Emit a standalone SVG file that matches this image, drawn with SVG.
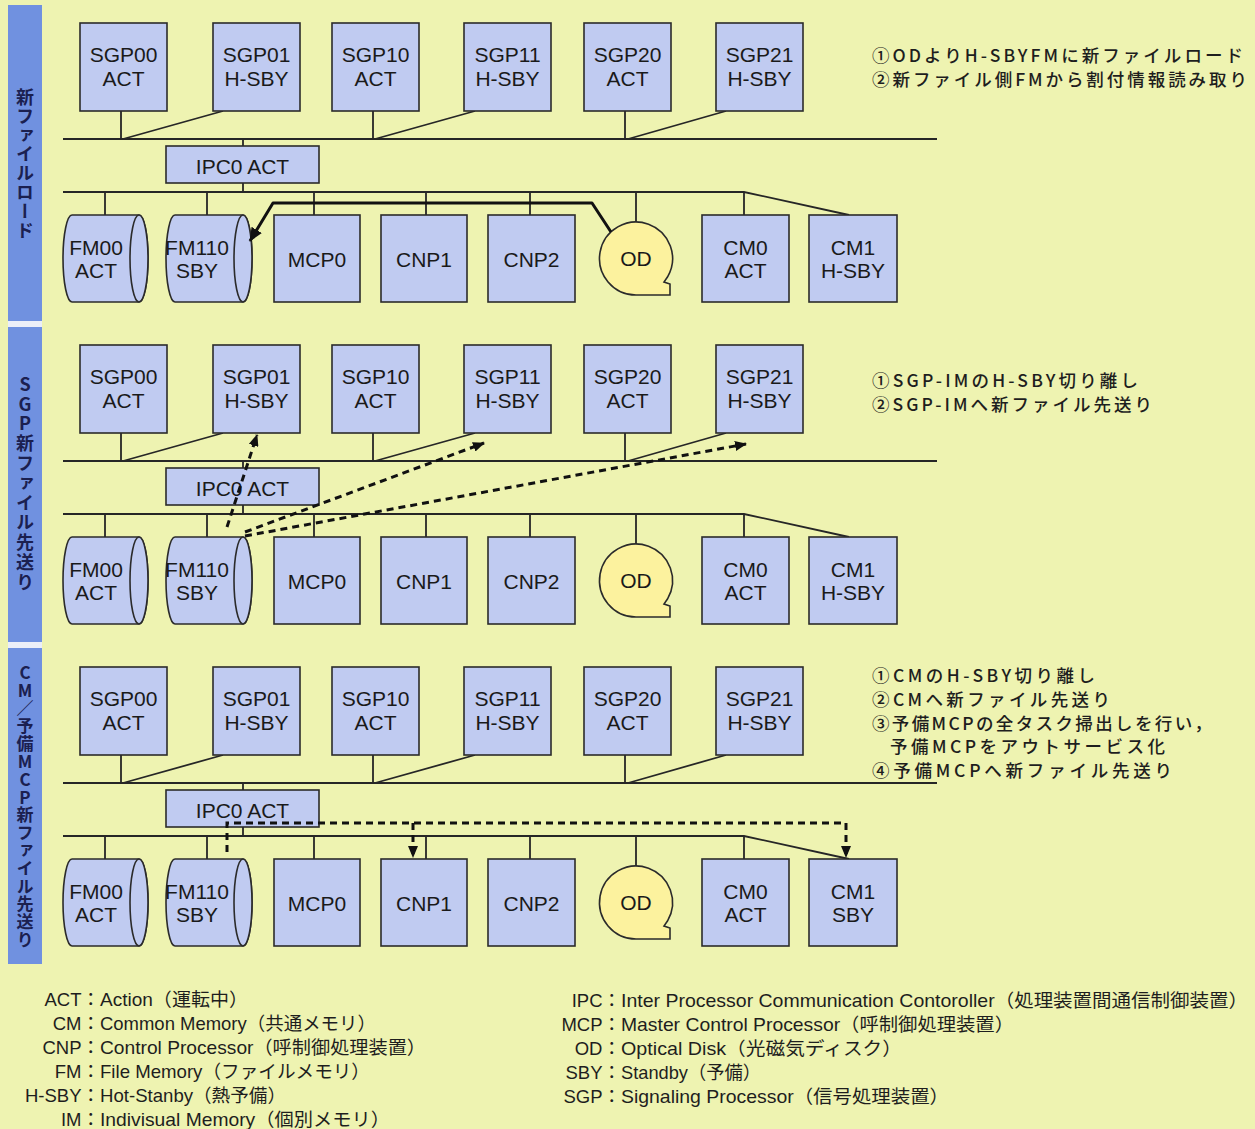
<svg xmlns="http://www.w3.org/2000/svg" width="1255" height="1129" viewBox="0 0 1255 1129">
<defs>
<style>
.lbl{font-family:"Liberation Sans",Arial,sans-serif;font-size:21px;fill:#1a1a1a;text-anchor:middle}
.box{fill:#c0cbf1;stroke:#2b2b2b;stroke-width:1.6}
.od{fill:#fcf29e;stroke:#2b2b2b;stroke-width:1.6}
.w{stroke:#262626;stroke-width:1.8;fill:none}
.dash{stroke:#111;stroke-width:3;stroke-dasharray:7 5;fill:none}
.thick{stroke:#111;stroke-width:3;fill:none;stroke-linejoin:round}
.note{font-family:"Noto Sans CJK JP","Liberation Sans",sans-serif;font-size:17.5px;font-weight:500;fill:#1e1e1e}
.leg{font-family:"Liberation Sans","Noto Sans CJK JP",sans-serif;font-size:18.5px;fill:#1e1e1e}
.band{fill:#7091e0}
.vt{font-family:"Noto Sans CJK JP",sans-serif;font-weight:700;fill:#1b2050;writing-mode:vertical-rl;text-orientation:upright}
</style>
<marker id="ah" viewBox="0 0 12 10" refX="11" refY="5" markerWidth="12" markerHeight="10" orient="auto" markerUnits="userSpaceOnUse"><path d="M0,0L12,5L0,10z" fill="#111"/></marker>
<marker id="ahb" viewBox="0 0 14 12" refX="13" refY="6" markerWidth="14" markerHeight="12" orient="auto" markerUnits="userSpaceOnUse"><path d="M0,0L14,6L0,12z" fill="#111"/></marker>
</defs>
<rect x="0" y="0" width="1255" height="1129" fill="#eef3b1"/>

<g id="bands">
<rect class="band" x="8" y="5" width="34" height="316"/>
<rect x="8" y="321" width="34" height="6" fill="#eceff8"/>
<rect class="band" x="8" y="327" width="34" height="315"/>
<rect x="8" y="642" width="34" height="6" fill="#eceff8"/>
<rect class="band" x="8" y="648" width="34" height="316"/>
<text class="vt" x="25" y="88" font-size="18" letter-spacing="1">新ファイルロード</text>
<text class="vt" x="25" y="375" font-size="18" letter-spacing="1.8">SGP新ファイル先送り</text>
<text class="vt" x="25" y="664" font-size="17" letter-spacing="0.8">CM／予備MCP新ファイル先送り</text>
</g>

<!-- Section 1 -->
<g id="s1">
<g id="s1-connectors">
<path class="w" d="M63,139H937 M121,111V139 M223,111L123,139 M373,111V139 M475,111L375,139 M625,111V139 M726,111L628,139 M243,139V146 M243,183V192 M63,192H744L849,215 M105,192V215 M207,192V215 M314,192V215 M426,192V215 M530,192V215 M636,192V222 M744,192V215"/>
</g>
<g id="s1-sgp00"><rect class="box" x="80" y="23" width="87" height="88"/><text class="lbl" x="123.5" y="62">SGP00</text><text class="lbl" x="123.5" y="86">ACT</text></g>
<g id="s1-sgp01"><rect class="box" x="213" y="23" width="87" height="88"/><text class="lbl" x="256.5" y="62">SGP01</text><text class="lbl" x="256.5" y="86">H-SBY</text></g>
<g id="s1-sgp10"><rect class="box" x="332" y="23" width="87" height="88"/><text class="lbl" x="375.5" y="62">SGP10</text><text class="lbl" x="375.5" y="86">ACT</text></g>
<g id="s1-sgp11"><rect class="box" x="464" y="23" width="87" height="88"/><text class="lbl" x="507.5" y="62">SGP11</text><text class="lbl" x="507.5" y="86">H-SBY</text></g>
<g id="s1-sgp20"><rect class="box" x="584" y="23" width="87" height="88"/><text class="lbl" x="627.5" y="62">SGP20</text><text class="lbl" x="627.5" y="86">ACT</text></g>
<g id="s1-sgp21"><rect class="box" x="716" y="23" width="87" height="88"/><text class="lbl" x="759.5" y="62">SGP21</text><text class="lbl" x="759.5" y="86">H-SBY</text></g>
<g id="s1-ipc0"><rect class="box" x="166" y="146" width="153" height="37"/><text class="lbl" x="242.5" y="174" font-size="20">IPC0 ACT</text></g>
<g id="s1-fm00"><path class="box" d="M72,215H139A9,43.5 0 0 1 139,302H72A9,43.5 0 0 1 72,215Z"/><ellipse class="box" cx="139" cy="258.5" rx="9" ry="43.5"/><text class="lbl" x="96" y="255">FM00</text><text class="lbl" x="96" y="278">ACT</text></g>
<g id="s1-fm110"><path class="box" d="M175,215H243A9,43.5 0 0 1 243,302H175A9,43.5 0 0 1 175,215Z"/><ellipse class="box" cx="243" cy="258.5" rx="9" ry="43.5"/><text class="lbl" x="197" y="255">FM110</text><text class="lbl" x="197" y="278">SBY</text></g>
<g id="s1-mcp0"><rect class="box" x="274" y="215" width="86" height="87"/><text class="lbl" x="317" y="267">MCP0</text></g>
<g id="s1-cnp1"><rect class="box" x="381" y="215" width="86" height="87"/><text class="lbl" x="424" y="267">CNP1</text></g>
<g id="s1-cnp2"><rect class="box" x="488" y="215" width="87" height="87"/><text class="lbl" x="531.5" y="267">CNP2</text></g>
<g id="s1-od"><path class="od" d="M636,295A36.5,36.5 0 1 1 667.6,276.8L664,282L670,284V295Z"/><text class="lbl" x="636" y="266">OD</text></g>
<g id="s1-cm0"><rect class="box" x="702" y="215" width="87" height="87"/><text class="lbl" x="745.5" y="255">CM0</text><text class="lbl" x="745.5" y="278">ACT</text></g>
<g id="s1-cm1"><rect class="box" x="809" y="215" width="88" height="87"/><text class="lbl" x="853" y="255">CM1</text><text class="lbl" x="853" y="278">H-SBY</text></g>
<g id="s1-arrows">
<path class="thick" d="M611,232L592,203H273L250,241" marker-end="url(#ahb)"/>
</g>
</g>

<!-- Section 2 -->
<g id="s2" transform="translate(0,322)">
<g id="s2-connectors">
<path class="w" d="M63,139H937 M121,111V139 M223,111L123,139 M373,111V139 M475,111L375,139 M625,111V139 M726,111L628,139 M243,139V146 M243,183V192 M63,192H744L849,215 M105,192V215 M207,192V215 M314,192V215 M426,192V215 M530,192V215 M636,192V222 M744,192V215"/>
</g>
<g id="s2-sgp00"><rect class="box" x="80" y="23" width="87" height="88"/><text class="lbl" x="123.5" y="62">SGP00</text><text class="lbl" x="123.5" y="86">ACT</text></g>
<g id="s2-sgp01"><rect class="box" x="213" y="23" width="87" height="88"/><text class="lbl" x="256.5" y="62">SGP01</text><text class="lbl" x="256.5" y="86">H-SBY</text></g>
<g id="s2-sgp10"><rect class="box" x="332" y="23" width="87" height="88"/><text class="lbl" x="375.5" y="62">SGP10</text><text class="lbl" x="375.5" y="86">ACT</text></g>
<g id="s2-sgp11"><rect class="box" x="464" y="23" width="87" height="88"/><text class="lbl" x="507.5" y="62">SGP11</text><text class="lbl" x="507.5" y="86">H-SBY</text></g>
<g id="s2-sgp20"><rect class="box" x="584" y="23" width="87" height="88"/><text class="lbl" x="627.5" y="62">SGP20</text><text class="lbl" x="627.5" y="86">ACT</text></g>
<g id="s2-sgp21"><rect class="box" x="716" y="23" width="87" height="88"/><text class="lbl" x="759.5" y="62">SGP21</text><text class="lbl" x="759.5" y="86">H-SBY</text></g>
<g id="s2-ipc0"><rect class="box" x="166" y="146" width="153" height="37"/><text class="lbl" x="242.5" y="174" font-size="20">IPC0 ACT</text></g>
<g id="s2-fm00"><path class="box" d="M72,215H139A9,43.5 0 0 1 139,302H72A9,43.5 0 0 1 72,215Z"/><ellipse class="box" cx="139" cy="258.5" rx="9" ry="43.5"/><text class="lbl" x="96" y="255">FM00</text><text class="lbl" x="96" y="278">ACT</text></g>
<g id="s2-fm110"><path class="box" d="M175,215H243A9,43.5 0 0 1 243,302H175A9,43.5 0 0 1 175,215Z"/><ellipse class="box" cx="243" cy="258.5" rx="9" ry="43.5"/><text class="lbl" x="197" y="255">FM110</text><text class="lbl" x="197" y="278">SBY</text></g>
<g id="s2-mcp0"><rect class="box" x="274" y="215" width="86" height="87"/><text class="lbl" x="317" y="267">MCP0</text></g>
<g id="s2-cnp1"><rect class="box" x="381" y="215" width="86" height="87"/><text class="lbl" x="424" y="267">CNP1</text></g>
<g id="s2-cnp2"><rect class="box" x="488" y="215" width="87" height="87"/><text class="lbl" x="531.5" y="267">CNP2</text></g>
<g id="s2-od"><path class="od" d="M636,295A36.5,36.5 0 1 1 667.6,276.8L664,282L670,284V295Z"/><text class="lbl" x="636" y="266">OD</text></g>
<g id="s2-cm0"><rect class="box" x="702" y="215" width="87" height="87"/><text class="lbl" x="745.5" y="255">CM0</text><text class="lbl" x="745.5" y="278">ACT</text></g>
<g id="s2-cm1"><rect class="box" x="809" y="215" width="88" height="87"/><text class="lbl" x="853" y="255">CM1</text><text class="lbl" x="853" y="278">H-SBY</text></g>
<g id="s2-arrows">
<path class="dash" d="M227,205L257,113" marker-end="url(#ah)"/>
<path class="dash" d="M245,210L484,121" marker-end="url(#ah)"/>
<path class="dash" d="M245,214L746,122" marker-end="url(#ah)"/>
</g>
</g>

<!-- Section 3 -->
<g id="s3" transform="translate(0,644)">
<g id="s3-connectors">
<path class="w" d="M63,139H937 M121,111V139 M223,111L123,139 M373,111V139 M475,111L375,139 M625,111V139 M726,111L628,139 M243,139V146 M243,183V192 M63,192H744L849,215 M105,192V215 M207,192V215 M314,192V215 M426,192V215 M530,192V215 M636,192V222 M744,192V215"/>
</g>
<g id="s3-sgp00"><rect class="box" x="80" y="23" width="87" height="88"/><text class="lbl" x="123.5" y="62">SGP00</text><text class="lbl" x="123.5" y="86">ACT</text></g>
<g id="s3-sgp01"><rect class="box" x="213" y="23" width="87" height="88"/><text class="lbl" x="256.5" y="62">SGP01</text><text class="lbl" x="256.5" y="86">H-SBY</text></g>
<g id="s3-sgp10"><rect class="box" x="332" y="23" width="87" height="88"/><text class="lbl" x="375.5" y="62">SGP10</text><text class="lbl" x="375.5" y="86">ACT</text></g>
<g id="s3-sgp11"><rect class="box" x="464" y="23" width="87" height="88"/><text class="lbl" x="507.5" y="62">SGP11</text><text class="lbl" x="507.5" y="86">H-SBY</text></g>
<g id="s3-sgp20"><rect class="box" x="584" y="23" width="87" height="88"/><text class="lbl" x="627.5" y="62">SGP20</text><text class="lbl" x="627.5" y="86">ACT</text></g>
<g id="s3-sgp21"><rect class="box" x="716" y="23" width="87" height="88"/><text class="lbl" x="759.5" y="62">SGP21</text><text class="lbl" x="759.5" y="86">H-SBY</text></g>
<g id="s3-ipc0"><rect class="box" x="166" y="146" width="153" height="37"/><text class="lbl" x="242.5" y="174" font-size="20">IPC0 ACT</text></g>
<g id="s3-fm00"><path class="box" d="M72,215H139A9,43.5 0 0 1 139,302H72A9,43.5 0 0 1 72,215Z"/><ellipse class="box" cx="139" cy="258.5" rx="9" ry="43.5"/><text class="lbl" x="96" y="255">FM00</text><text class="lbl" x="96" y="278">ACT</text></g>
<g id="s3-fm110"><path class="box" d="M175,215H243A9,43.5 0 0 1 243,302H175A9,43.5 0 0 1 175,215Z"/><ellipse class="box" cx="243" cy="258.5" rx="9" ry="43.5"/><text class="lbl" x="197" y="255">FM110</text><text class="lbl" x="197" y="278">SBY</text></g>
<g id="s3-mcp0"><rect class="box" x="274" y="215" width="86" height="87"/><text class="lbl" x="317" y="267">MCP0</text></g>
<g id="s3-cnp1"><rect class="box" x="381" y="215" width="86" height="87"/><text class="lbl" x="424" y="267">CNP1</text></g>
<g id="s3-cnp2"><rect class="box" x="488" y="215" width="87" height="87"/><text class="lbl" x="531.5" y="267">CNP2</text></g>
<g id="s3-od"><path class="od" d="M636,295A36.5,36.5 0 1 1 667.6,276.8L664,282L670,284V295Z"/><text class="lbl" x="636" y="266">OD</text></g>
<g id="s3-cm0"><rect class="box" x="702" y="215" width="87" height="87"/><text class="lbl" x="745.5" y="255">CM0</text><text class="lbl" x="745.5" y="278">ACT</text></g>
<g id="s3-cm1"><rect class="box" x="809" y="215" width="88" height="87"/><text class="lbl" x="853" y="255">CM1</text><text class="lbl" x="853" y="278">SBY</text></g>
<g id="s3-arrows">
<path class="dash" d="M227,208V179H846V213" marker-end="url(#ah)"/>
<path class="dash" d="M413,179V213" marker-end="url(#ah)"/>
</g>
</g>

<g id="notes">
<text class="note" x="872" y="62" textLength="371" lengthAdjust="spacing">①ODよりH-SBYFMに新ファイルロード</text>
<text class="note" x="872" y="86" textLength="375" lengthAdjust="spacing">②新ファイル側FMから割付情報読み取り</text>
<text class="note" x="872" y="387" textLength="266" lengthAdjust="spacing">①SGP-IMのH-SBY切り離し</text>
<text class="note" x="872" y="411" textLength="280" lengthAdjust="spacing">②SGP-IMへ新ファイル先送り</text>
<text class="note" x="872" y="682" textLength="223" lengthAdjust="spacing">①CMのH-SBY切り離し</text>
<text class="note" x="872" y="706" textLength="238" lengthAdjust="spacing">②CMへ新ファイル先送り</text>
<text class="note" x="872" y="730" textLength="340" lengthAdjust="spacing">③予備MCPの全タスク掃出しを行い，</text>
<text class="note" x="890" y="753" textLength="275" lengthAdjust="spacing">予備MCPをアウトサービス化</text>
<text class="note" x="872" y="777" textLength="300" lengthAdjust="spacing">④予備MCPへ新ファイル先送り</text>
</g>

<g id="legend">
<text class="leg" x="100" y="1006" text-anchor="end">ACT：</text><text class="leg" x="100" y="1006" textLength="148" lengthAdjust="spacingAndGlyphs">Action（運転中）</text>
<text class="leg" x="100" y="1030" text-anchor="end">CM：</text><text class="leg" x="100" y="1030" textLength="276" lengthAdjust="spacingAndGlyphs">Common Memory（共通メモリ）</text>
<text class="leg" x="100" y="1054" text-anchor="end">CNP：</text><text class="leg" x="100" y="1054" textLength="326" lengthAdjust="spacingAndGlyphs">Control Processor（呼制御処理装置）</text>
<text class="leg" x="100" y="1078" text-anchor="end">FM：</text><text class="leg" x="100" y="1078" textLength="270" lengthAdjust="spacingAndGlyphs">File Memory（ファイルメモリ）</text>
<text class="leg" x="100" y="1102" text-anchor="end">H-SBY：</text><text class="leg" x="100" y="1102" textLength="186" lengthAdjust="spacingAndGlyphs">Hot-Stanby（熱予備）</text>
<text class="leg" x="100" y="1126" text-anchor="end">IM：</text><text class="leg" x="100" y="1126" textLength="290" lengthAdjust="spacingAndGlyphs">Indivisual Memory（個別メモリ）</text>
<text class="leg" x="621" y="1007" text-anchor="end">IPC：</text><text class="leg" x="621" y="1007" textLength="627" lengthAdjust="spacingAndGlyphs">Inter Processor Communication Contoroller（処理装置間通信制御装置）</text>
<text class="leg" x="621" y="1031" text-anchor="end">MCP：</text><text class="leg" x="621" y="1031" textLength="393" lengthAdjust="spacingAndGlyphs">Master Control Processor（呼制御処理装置）</text>
<text class="leg" x="621" y="1055" text-anchor="end">OD：</text><text class="leg" x="621" y="1055" textLength="281" lengthAdjust="spacingAndGlyphs">Optical Disk（光磁気ディスク）</text>
<text class="leg" x="621" y="1079" text-anchor="end">SBY：</text><text class="leg" x="621" y="1079" textLength="140" lengthAdjust="spacingAndGlyphs">Standby（予備）</text>
<text class="leg" x="621" y="1103" text-anchor="end">SGP：</text><text class="leg" x="621" y="1103" textLength="328" lengthAdjust="spacingAndGlyphs">Signaling Processor（信号処理装置）</text>
</g>
</svg>
